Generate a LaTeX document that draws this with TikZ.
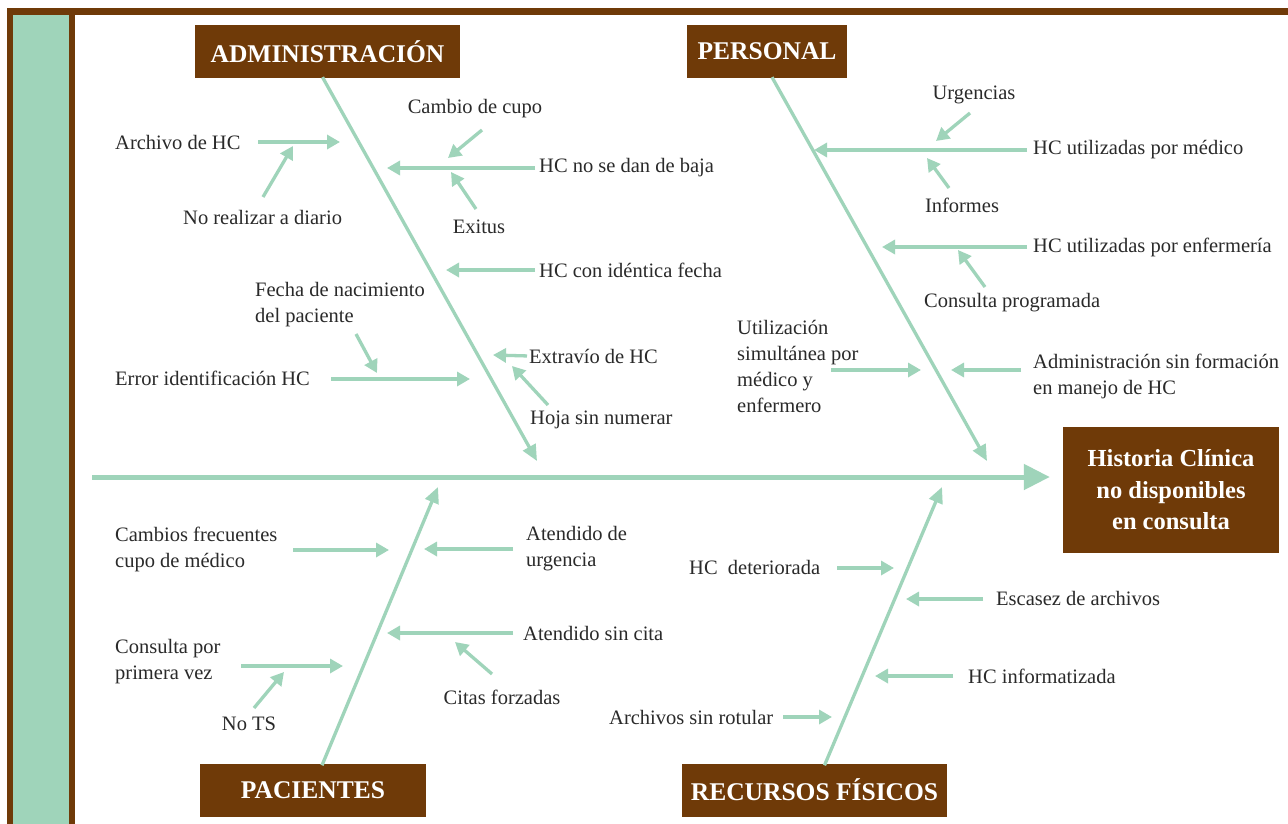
\documentclass[tikz,border=0pt]{standalone}
\usepackage{fontspec}
\setmainfont{Liberation Serif}
\usetikzlibrary{arrows.meta}
\definecolor{brn}{HTML}{6F3A08}
\definecolor{grn}{HTML}{9FD4BA}
\definecolor{txt}{HTML}{2A2A2A}
\begin{document}
\begin{tikzpicture}[x=1pt,y=-1pt,
  lbl/.style={font=\fontsize{20.5}{26}\selectfont, text=txt, inner sep=0pt, align=left},
  hdr/.style={fill=brn, text=white, font=\fontsize{25.5}{30}\selectfont\bfseries, minimum height=53pt, inner sep=0pt},
  br/.style={draw=grn, line width=3.3pt, -{Triangle[length=13pt,width=14pt]}},
  bone/.style={draw=grn, line width=3.3pt, -{Triangle[length=16pt,width=14pt]}},
  spine/.style={draw=grn, line width=5pt, -{Triangle[length=26pt,width=25pt]}}
]
\useasboundingbox (0,0) rectangle (1288,824);
\fill[white] (0,0) rectangle (1288,824);
% frame
\fill[brn] (7,8) rectangle (1288,15);
\fill[brn] (7,8) rectangle (13,824);
\fill[grn] (13,15) rectangle (69,824);
\fill[brn] (69,15) rectangle (75,824);

% headers
\node[hdr, minimum width=265pt] (adm) at (327.5,51.5) {ADMINISTRACIÓN};
\node[hdr, minimum width=160pt] (per) at (767,51.5) {PERSONAL};
\node[hdr, minimum width=226pt] (pac) at (313,790) {PACIENTES};
\node[hdr, minimum width=265pt] (rec) at (814.5,790) {RECURSOS FÍSICOS};
\node[fill=brn, text=white, minimum width=216pt, minimum height=126pt, align=center,
      inner sep=0pt, font=\fontsize{24.5}{31.5}\selectfont\bfseries] (eff) at (1171,490)
      {Historia Clínica\\no disponibles\\en consulta};

% spine
\coordinate (sp0) at (92,477);
\draw[spine, shorten >=13pt] (sp0) -- (eff.west |- sp0);

% bones
\coordinate (ba) at (537,461);
\coordinate (bp) at (987,461);
\coordinate (bc) at (438,487);
\coordinate (br) at (942,487);
\draw[bone] ([xshift=-5pt,yshift=1pt]adm.south) -- (ba);
\draw[bone] ([xshift=5pt,yshift=1pt]per.south) -- (bp);
\draw[bone] ([xshift=9pt,yshift=-2pt]pac.north) -- (bc);
\draw[bone] ([xshift=10pt,yshift=-2pt]rec.north) -- (br);

% ---------- ADMINISTRACION ----------
\node[lbl, anchor=west] (a1) at (115,142) {Archivo de HC};
\coordinate (a1s) at (258,142); \coordinate (a1e) at (340,142);
\draw[br] (a1s) -- (a1e);
\node[lbl, anchor=west] (a2) at (183,217) {No realizar a diario};
\coordinate (a2s) at (263,197); \coordinate (a2e) at (293,146);
\draw[br] (a2s) -- (a2e);
\node[lbl] (a3) at (475,109) {Cambio de cupo};
\coordinate (a3s) at (482,130); \coordinate (a3e) at (448,158);
\draw[br] (a3s) -- (a3e);
\node[lbl, anchor=west] (a4) at (539,168) {HC no se dan de baja};
\coordinate (a4e) at (387,168);
\draw[br, shorten <=4pt] (a4.west) -- (a4e);
\node[lbl] (a5) at (479,227) {Exitus};
\coordinate (a5s) at (476,209); \coordinate (a5e) at (451,172);
\draw[br] (a5s) -- (a5e);
\node[lbl, anchor=west] (a6) at (539,270) {HC con idéntica fecha};
\coordinate (a6e) at (446,270);
\draw[br, shorten <=4pt] (a6.west) -- (a6e);
\node[lbl, anchor=west] (a7) at (255,305) {Fecha de nacimiento\\del paciente};
\coordinate (a7s) at (356,334); \coordinate (a7e) at (377,373);
\draw[br] (a7s) -- (a7e);
\node[lbl, anchor=west] (a8) at (115,378) {Error identificación HC};
\coordinate (a8s) at (331,379); \coordinate (a8e) at (470,379);
\draw[br] (a8s) -- (a8e);
\node[lbl, anchor=west] (a9) at (529,356) {Extravío de HC};
\coordinate (a9e) at (493,355);
\draw[br, shorten <=2pt] (a9.west) -- (a9e);
\node[lbl, anchor=west] (a10) at (530,420) {Hoja sin numerar};
\coordinate (a10s) at (548,405); \coordinate (a10e) at (512,366);
\draw[br] (a10s) -- (a10e);

% ---------- PERSONAL ----------
\node[lbl] (p1) at (974,95) {Urgencias};
\coordinate (p1s) at (970,113); \coordinate (p1e) at (936,141);
\draw[br] (p1s) -- (p1e);
\node[lbl, anchor=west] (p2) at (1033,150) {HC utilizadas por médico};
\coordinate (p2e) at (814,150);
\draw[br, shorten <=6pt] (p2.west) -- (p2e);
\node[lbl] (p3) at (962,205) {Informes};
\coordinate (p3s) at (949,188); \coordinate (p3e) at (927,158);
\draw[br] (p3s) -- (p3e);
\node[lbl, anchor=west] (p4) at (1033,247) {HC utilizadas por enfermería};
\coordinate (p4e) at (882,247);
\draw[br, shorten <=6pt] (p4.west) -- (p4e);
\node[lbl, anchor=west] (p5) at (924,303) {Consulta programada};
\coordinate (p5s) at (985,287); \coordinate (p5e) at (958,250);
\draw[br] (p5s) -- (p5e);
\node[lbl, anchor=west] (p6) at (737,366) {Utilización\\simultánea por\\médico y\\enfermero};
\coordinate (p6s) at (831,370); \coordinate (p6e) at (921,370);
\draw[br] (p6s) -- (p6e);
\node[lbl, anchor=west] (p7) at (1033,376) {Administración sin formación\\en manejo de HC};
\coordinate (p7s) at (1021,370); \coordinate (p7e) at (951,370);
\draw[br] (p7s) -- (p7e);

% ---------- PACIENTES ----------
\node[lbl, anchor=west] (c1) at (115,549) {Cambios frecuentes\\cupo de médico};
\coordinate (c1s) at (293,550); \coordinate (c1e) at (389,550);
\draw[br] (c1s) -- (c1e);
\node[lbl, anchor=west] (c2) at (526,549) {Atendido de\\urgencia};
\coordinate (c2s) at (513,549); \coordinate (c2e) at (424,549);
\draw[br] (c2s) -- (c2e);
\node[lbl, anchor=west] (c3) at (523,633) {Atendido sin cita};
\coordinate (c3s) at (513,633); \coordinate (c3e) at (387,633);
\draw[br] (c3s) -- (c3e);
\node[lbl] (c4) at (502,697) {Citas forzadas};
\coordinate (c4s) at (492,674); \coordinate (c4e) at (455,642);
\draw[br] (c4s) -- (c4e);
\node[lbl, anchor=west] (c5) at (115,662) {Consulta por\\primera vez};
\coordinate (c5s) at (241,666); \coordinate (c5e) at (343,666);
\draw[br] (c5s) -- (c5e);
\node[lbl] (c6) at (249,724) {No TS};
\coordinate (c6s) at (254,708); \coordinate (c6e) at (284,672);
\draw[br] (c6s) -- (c6e);

% ---------- RECURSOS ----------
\node[lbl, anchor=west] (r1) at (689,567) {HC~~deteriorada};
\coordinate (r1s) at (837,568); \coordinate (r1e) at (894,568);
\draw[br] (r1s) -- (r1e);
\node[lbl, anchor=west] (r2) at (996,598) {Escasez de archivos};
\coordinate (r2s) at (983,599); \coordinate (r2e) at (906,599);
\draw[br] (r2s) -- (r2e);
\node[lbl, anchor=west] (r3) at (968,676) {HC informatizada};
\coordinate (r3s) at (953,676); \coordinate (r3e) at (875,676);
\draw[br] (r3s) -- (r3e);
\node[lbl, anchor=west] (r4) at (609,717) {Archivos sin rotular};
\coordinate (r4s) at (783,717); \coordinate (r4e) at (832,717);
\draw[br] (r4s) -- (r4e);
\end{tikzpicture}
\end{document}
